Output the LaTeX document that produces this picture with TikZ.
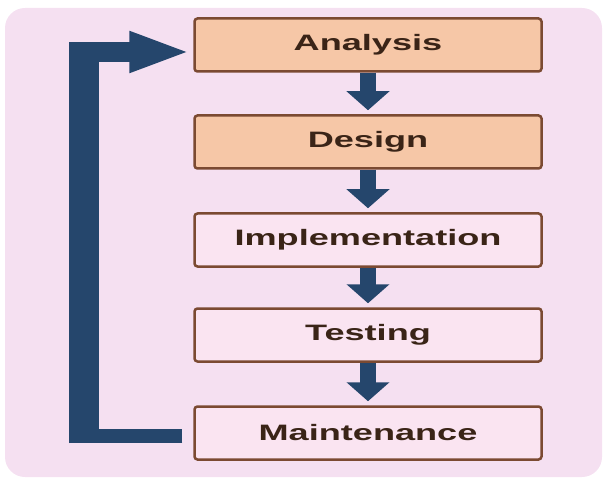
\documentclass[tikz,border=0pt]{standalone}
\usepackage{fontspec}
\usepackage{tikz}
\usetikzlibrary{positioning,arrows.meta,calc}
\newfontfamily\boxfont[FakeStretch=1.62]{Liberation Sans Bold}
\definecolor{panel}{HTML}{F5E0F1}
\definecolor{peach}{HTML}{F6C7A7}
\definecolor{palebox}{HTML}{FAE4F1}
\definecolor{boxline}{HTML}{7B4A32}
\definecolor{flowblue}{HTML}{25466C}
\definecolor{labeltext}{HTML}{3A2417}
\tikzset{phase/.style={draw=boxline, line width=2.5pt, rounded corners=3pt,
    minimum width=347pt, minimum height=53pt, text=labeltext,
    font=\boxfont\fontsize{22.3}{26}\selectfont},
  early/.style={phase, fill=peach},
  late/.style={phase, fill=palebox},
  flow/.style={draw=flowblue, line width=16pt,
    -{Triangle[length=19pt,width=42pt]}, shorten >=4pt},
  loopbar/.style={draw=flowblue}
}

\begin{document}
\begin{tikzpicture}[x=1pt,y=-1pt]
	\useasboundingbox (0,0) rectangle (605,481);
	\fill[panel, rounded corners=20pt] (5,8) rectangle (602,477);

	\node[early] (A) at (368,45) {Analysis};
	\node[early] (D) at (368,142) {Design};
	\node[late] (I) at (368,240) {Implementation};
	\node[late] (T) at (368,335) {Testing};
	\node[late] (M) at (368,433) {Maintenance};

	\foreach \a/\b in {A/D,D/I,I/T,T/M}
		\draw [flow] (\a) -- (\b);

	% feedback loop
	\coordinate (loopB) at (69,436);
	\coordinate (loopT) at (69,52);
	\draw [loopbar, line width=14pt, shorten <=11pt] (loopB -| M.west) -- (loopB);
	\draw [loopbar, line width=30pt] ($(loopB)+(15,7)$) -- ($(loopT)+(15,-9)$);
	\draw [loopbar, line width=20pt, -{Triangle[length=62pt,width=37pt]}, shorten >=2pt] (loopT) -- (loopT -| A.west);
\end{tikzpicture}
\end{document}
